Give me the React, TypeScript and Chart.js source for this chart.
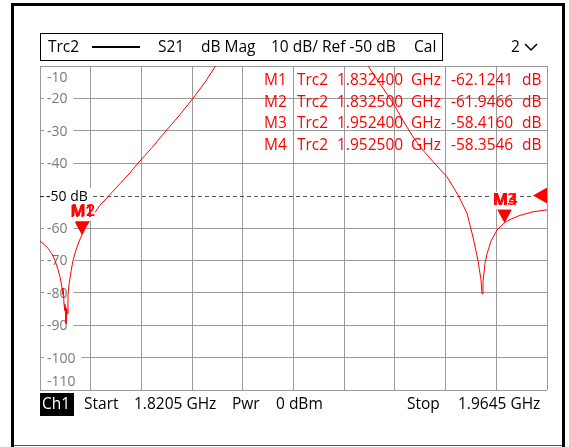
import React, { useEffect, useRef } from "react";
import { Chart, registerables } from "chart.js";

Chart.register(...registerables);

// ---------- data ----------
const START_GHZ = 1.8205;
const STOP_GHZ = 1.9645;
const Y_MIN = -110;
const Y_MAX = -10;
const REF_LEVEL = -50;

const freqGHz = [
  1.8205, 1.82164, 1.82277, 1.82391, 1.82476, 1.82561, 1.82618, 1.82675, 1.82703, 1.82717,
  1.82732, 1.8276, 1.82774, 1.82788, 1.82808, 1.82825, 1.82845, 1.82874, 1.8293, 1.82987,
  1.83072, 1.83158, 1.8324, 1.8325, 1.83356, 1.83527, 1.83754, 1.8401, 1.84322, 1.84606,
  1.84833, 1.85231, 1.85629, 1.86026, 1.86395, 1.86736, 1.8702, 1.87304, 1.88014, 1.89434,
  1.90571, 1.9114, 1.91366, 1.91707, 1.92076, 1.9236, 1.92644, 1.92928, 1.93212, 1.93609,
  1.93922, 1.94177, 1.94348, 1.9449, 1.94575, 1.94604, 1.94632, 1.94689, 1.94746, 1.9486,
  1.9503, 1.9524, 1.9525, 1.95399, 1.95683, 1.96052, 1.9645,
];
const s21dB = [
  -64.0, -65.0, -66.3, -68.0, -70.0, -72.8, -75.0, -78.5, -80.5, -79.5,
  -83.5, -85.5, -84.5, -89.5, -85.0, -86.5, -80.5, -77.5, -73.5, -70.0,
  -66.8, -64.2, -62.1241, -61.9466, -59.5, -56.5, -53.0, -50.0, -46.3, -43.0,
  -40.0, -35.2, -30.0, -25.0, -20.0, -15.0, -10.3, -5.5, 2.0, 5.0,
  2.0, -6.0, -10.0, -15.5, -21.4, -26.8, -31.9, -36.0, -39.5, -44.2,
  -49.8, -55.4, -62.8, -70.0, -76.0, -80.3, -76.5, -71.0, -68.0, -64.0,
  -60.6, -58.416, -58.3546, -57.4, -56.1, -55.0, -54.4,
];

const yTickLabels = ["-10", "-20", "-30", "-40", "-50 dB", "-60", "-70", "-80", "-90", "-100", "-110"];
const yTickValues = [-10, -20, -30, -40, -50, -60, -70, -80, -90, -100, -110];

const markerNames = ["M1", "M2", "M3", "M4"];
const markerFreqGHz = [1.8324, 1.8325, 1.9524, 1.9525];
const markerValueDb = [-62.1241, -61.9466, -58.416, -58.3546];
const markerFreqText = ["1.832400", "1.832500", "1.952400", "1.952500"];
const markerValueText = ["-62.1241", "-61.9466", "-58.4160", "-58.3546"];
const markerTrace = "Trc2";

const headerTexts = ["S21", "dB Mag", "10 dB/ Ref -50 dB", "Cal"];
const footerTexts = ["Start", "1.8205 GHz", "Pwr", "0 dBm", "Stop", "1.9645 GHz"];

// ---------- styling ----------
const FONT = "'Open Sans', 'Noto Sans', sans-serif";
const RED = "#ff0000";
const GRID = "#9a9a9a";
const W = 569;
const H = 447;

const overlayPlugin = {
  id: "vnaOverlay",
  beforeDatasetsDraw(chart: any) {
    const { ctx, chartArea } = chart;
    const y = chart.scales.y;
    ctx.save();
    // y labels with white background inside plot
    ctx.font = `14px ${FONT}`;
    ctx.textBaseline = "middle";
    ctx.textAlign = "left";
    yTickValues.forEach((v, i) => {
      let py = y.getPixelForValue(v);
      if (i === 0) py = chartArea.top + 11;
      if (i === yTickValues.length - 1) py = chartArea.bottom - 9;
      const label = yTickLabels[i];
      const w = ctx.measureText(label).width;
      const isRef = v === REF_LEVEL;
      ctx.fillStyle = "#ffffff";
      const bx = chartArea.left + 4;
      const bw = isRef ? 48 : w + 9;
      ctx.fillRect(bx, py - 8, bw, 16);
      if (isRef) {
        ctx.strokeStyle = "#222";
        ctx.lineWidth = 1;
        ctx.beginPath();
        ctx.moveTo(chartArea.left, Math.round(py) + 0.5);
        ctx.lineTo(chartArea.left + 4, Math.round(py) + 0.5);
        ctx.stroke();
      }
      ctx.fillStyle = isRef ? "#000000" : "#7a7a7a";
      ctx.fillText(label, isRef ? chartArea.left + 6 : chartArea.left + 7, py + 1);
    });
    // reference dashed line
    const ry = Math.round(y.getPixelForValue(REF_LEVEL)) + 0.5;
    ctx.strokeStyle = "#555";
    ctx.lineWidth = 1;
    ctx.setLineDash([4, 3]);
    ctx.beginPath();
    ctx.moveTo(chartArea.left + 53, ry);
    ctx.lineTo(chartArea.right - 14, ry);
    ctx.stroke();
    ctx.setLineDash([]);
    // marker table
    ctx.fillStyle = RED;
    ctx.font = `15.5px ${FONT}`;
    const rowY = [81, 102.5, 124, 145.5];
    markerNames.forEach((m, i) => {
      const yy = rowY[i];
      ctx.textAlign = "left";
      ctx.fillText(m, 264, yy);
      ctx.fillText(markerTrace, 297, yy);
      ctx.fillText(markerFreqText[i], 337, yy);
      ctx.fillText("GHz", 411, yy);
      ctx.fillText(markerValueText[i], 451, yy);
      ctx.fillText("dB", 522, yy);
    });
    ctx.restore();
  },
  afterDatasetsDraw(chart: any) {
    const { ctx, chartArea } = chart;
    const x = chart.scales.x;
    const y = chart.scales.y;
    ctx.save();
    // marker labels first (background), then triangles
    ctx.font = `600 16px ${FONT}`;
    ctx.textBaseline = "middle";
    ctx.textAlign = "center";
    markerNames.forEach((m, i) => {
      const px = x.getPixelForValue(markerFreqGHz[i]);
      const py = y.getPixelForValue(markerValueDb[i]);
      ctx.fillStyle = "#ffffff";
      ctx.fillRect(px - 13, py - 31, 26, 17);
    });
    markerNames.forEach((m, i) => {
      const px = x.getPixelForValue(markerFreqGHz[i]);
      const py = y.getPixelForValue(markerValueDb[i]);
      ctx.fillStyle = RED;
      ctx.fillText(m, px + (i % 2 === 1 ? 1 : 0), py - 22.5);
      ctx.beginPath();
      ctx.moveTo(px, py);
      ctx.lineTo(px - 7, py - 13);
      ctx.lineTo(px + 7, py - 13);
      ctx.closePath();
      ctx.fill();
    });
    // reference level triangle on right edge
    const ry = y.getPixelForValue(REF_LEVEL);
    ctx.fillStyle = RED;
    ctx.beginPath();
    ctx.moveTo(chartArea.right - 14, ry);
    ctx.lineTo(chartArea.right, ry - 8);
    ctx.lineTo(chartArea.right, ry + 8);
    ctx.closePath();
    ctx.fill();
    ctx.restore();
  },
  afterDraw(chart: any) {
    const { ctx } = chart;
    ctx.save();
    // outer frame
    ctx.fillStyle = "#000";
    ctx.fillRect(11, 3, 3, H - 3);
    ctx.fillRect(11, 3, 554, 3);
    ctx.fillRect(562, 3, 3, H - 3);
    ctx.fillStyle = "#555";
    ctx.fillRect(14, 445, 548, 1);
    // header box
    ctx.strokeStyle = "#000";
    ctx.lineWidth = 1;
    ctx.strokeRect(40.5, 33.5, 402, 27);
    ctx.fillStyle = "#000";
    ctx.font = `15.5px ${FONT}`;
    ctx.textBaseline = "middle";
    ctx.textAlign = "left";
    ctx.fillText(markerTrace, 48, 47.5);
    ctx.lineWidth = 2;
    ctx.beginPath();
    ctx.moveTo(92, 47);
    ctx.lineTo(140, 47);
    ctx.stroke();
    const hx = [158, 201, 271, 414];
    headerTexts.forEach((t, i) => ctx.fillText(t, hx[i], 47.5));
    ctx.fillText("2", 511, 47.5);
    ctx.lineWidth = 1.5;
    ctx.beginPath();
    ctx.moveTo(525, 44);
    ctx.lineTo(531, 50);
    ctx.lineTo(537, 44);
    ctx.stroke();
    // footer
    ctx.fillStyle = "#000";
    ctx.fillRect(40, 393, 34, 23);
    ctx.fillStyle = "#fff";
    ctx.fillText("Ch1", 42, 405);
    ctx.fillStyle = "#000";
    const fx = [84, 134, 232, 276, 407, 458];
    footerTexts.forEach((t, i) => ctx.fillText(t, fx[i], 405));
    ctx.restore();
  },
};

export default function App() {
  const canvasRef = useRef<HTMLCanvasElement | null>(null);

  useEffect(() => {
    document.body.style.margin = "0";
    const canvas = canvasRef.current;
    if (!canvas) return;
    const points = freqGHz.map((f, i) => ({ x: f, y: s21dB[i] }));
    const chart = new Chart(canvas, {
      type: "line",
      data: {
        datasets: [
          {
            data: points,
            borderColor: RED,
            borderWidth: 1,
            pointRadius: 0,
            tension: 0,
            fill: false,
          },
        ],
      },
      options: {
        responsive: false,
        animation: false,
        devicePixelRatio: 1,
        layout: { autoPadding: false, padding: { left: 40, top: 66, right: 22, bottom: 57 } },
        plugins: { legend: { display: false }, tooltip: { enabled: false } },
        events: [],
        scales: {
          x: {
            type: "linear",
            min: START_GHZ,
            max: STOP_GHZ,
            afterBuildTicks: (scale: any) => {
              scale.ticks = Array.from({ length: 11 }, (_, i) => ({
                value: START_GHZ + (i * (STOP_GHZ - START_GHZ)) / 10,
              }));
            },
            ticks: { display: false },
            grid: { color: GRID, lineWidth: 1, drawTicks: false },
            border: { display: false },
          },
          y: {
            type: "linear",
            min: Y_MIN,
            max: Y_MAX,
            afterBuildTicks: (scale: any) => {
              scale.ticks = yTickValues.map((v) => ({ value: v }));
            },
            ticks: { display: false },
            grid: {
              color: (c: any) => (c.tick && c.tick.value === REF_LEVEL ? "rgba(0,0,0,0)" : GRID),
              lineWidth: 1,
              drawTicks: false,
            },
            border: { display: false },
          },
        },
      },
      plugins: [overlayPlugin],
    });
    return () => chart.destroy();
  }, []);

  return (
    <div style={{ width: W, height: H, background: "#fff" }}>
      <canvas ref={canvasRef} width={W} height={H} style={{ display: "block", width: W, height: H }} />
    </div>
  );
}
